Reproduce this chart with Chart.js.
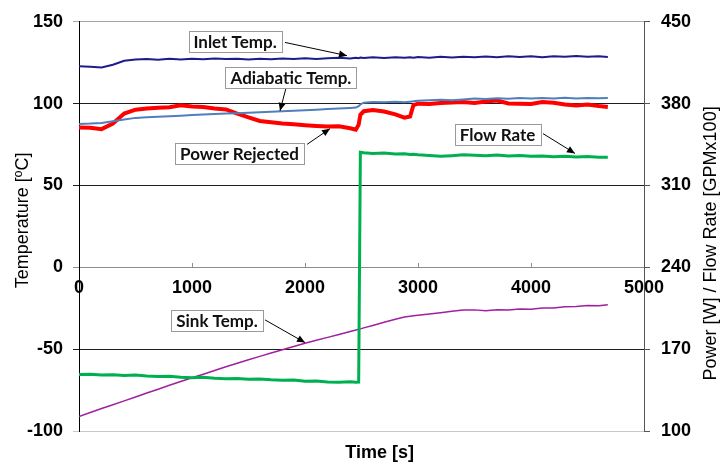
<!DOCTYPE html>
<html><head><meta charset="utf-8">
<script src="https://cdn.jsdelivr.net/npm/chart.js@4.4.1/dist/chart.umd.min.js"></script>
<style>html,body{margin:0;padding:0;background:#fff;} canvas{display:block;}</style>
</head><body>
<canvas id="c" width="722" height="464"></canvas>
<script>
// ---- data (time in seconds) ----
const timeS = [0,100,200,300,400,500,600,700,800,900,1000,1100,1200,1300,1400,1500,1600,1700,1800,1900,2000,2100,2200,2300,2400,2450,2475,2490,2520,2600,2700,2800,2880,2930,2960,3000,3100,3200,3300,3400,3500,3600,3700,3800,3900,4000,4100,4200,4300,4400,4500,4600,4680];
// left axis, degC
const inletTemp = [122.8,122.5,122.1,123.8,126.2,126.9,127.3,126.8,127.4,127.0,127.5,127.1,127.6,127.2,127.5,127.0,127.4,127.1,127.6,127.2,127.8,127.3,127.7,128.0,127.6,128.1,127.8,128.2,127.9,128.3,127.9,128.4,128.0,128.3,128.1,128.5,128.1,128.6,128.2,128.7,128.3,128.8,128.4,128.9,128.5,128.9,128.4,129.0,128.6,129.1,128.6,129.0,128.5];
const adiabaticTemp = [87.6,87.8,88.2,89.2,90.3,91.3,91.7,92.0,92.3,92.6,93.0,93.3,93.6,94.0,94.2,94.5,94.7,95.0,95.3,95.6,96.0,96.3,96.7,97.0,97.4,97.6,98.5,99.5,100.6,101.0,100.8,101.1,100.9,101.2,101.4,101.8,102.0,102.3,102.1,102.6,103.2,102.9,103.3,103.0,103.4,103.1,103.5,103.2,103.6,103.2,103.5,103.3,103.4];
const sinkTemp = [-91.1,-88.7,-86.3,-84.0,-81.6,-79.2,-76.8,-74.5,-72.1,-69.8,-67.5,-65.3,-63.0,-60.8,-58.6,-56.5,-54.4,-52.4,-50.4,-48.4,-46.4,-44.6,-42.8,-41.0,-39.2,-38.3,-37.8,-37.6,-37.0,-35.5,-33.6,-31.7,-30.4,-29.9,-29.6,-29.3,-28.5,-27.7,-26.8,-26.1,-26.0,-26.5,-25.9,-26.0,-25.4,-25.6,-24.9,-24.8,-24.1,-24.0,-23.4,-23.5,-22.8];
// right axis, W and GPMx100
const powerRejected = [359.7,359.3,358.2,363.0,371.5,374.8,375.8,376.4,376.9,378.6,377.6,377.2,375.9,375.0,371.5,368.3,365.2,364.0,363.0,362.3,361.6,360.9,360.4,360.6,359.0,357.8,362.0,370.5,373.5,374.5,373.2,370.8,368.0,369.0,378.8,380.0,379.6,380.5,380.9,381.4,380.6,381.8,382.6,380.2,380.0,379.7,381.3,380.8,379.2,378.4,379.3,378.0,377.2];
const flowRate = [148.3,148.6,147.9,148.2,147.5,147.8,147.0,146.6,146.9,146.0,145.6,145.9,145.1,144.6,144.9,144.2,144.5,143.8,143.4,143.7,142.5,142.8,142.0,141.8,142.1,141.7,141.9,338.5,338.0,337.4,337.8,336.9,337.2,336.5,336.8,336.2,335.6,334.9,335.5,336.3,335.9,335.4,336.0,335.2,335.6,334.9,335.3,334.6,335.1,334.3,334.8,334.1,334.2];

const seriesNames = ['Inlet Temp.','Adiabatic Temp.','Power Rejected','Flow Rate','Sink Temp.'];
const xTitle = 'Time [s]';
const yLeftTitle = 'Temperature [ºC]';
const yRightTitle = 'Power [W] / Flow Rate [GPMx100]';

// callouts: box centre, arrow start, arrow tip — in (time, degC) coordinates
const callouts = [
  {text: seriesNames[0], box:[1381,138.0], from:[1823,137.4], to:[2372,129.3]},
  {text: seriesNames[1], box:[1876,116.2], from:[1832,109.6], to:[1779,95.6]},
  {text: seriesNames[2], box:[1420,69.6],  from:[2018,75.1],  to:[2221,84.7]},
  {text: seriesNames[3], box:[3704,81.1],  from:[4106,81.7],  to:[4389,69.6]},
  {text: seriesNames[4], box:[1221,-32.7], from:[1646,-32.1], to:[2000,-46.0]}
];
const xTitleAt = 2660;

const pts = arr => timeS.map((t,i)=>({x:t, y:arr[i]}));

const TICK_FONT = {family:'"Liberation Sans", Arial, sans-serif', size:18, weight:'bold'};

const calloutPlugin = {
  id:'callouts',
  afterDatasetsDraw(chart){
    const ctx = chart.ctx, xs = chart.scales.x, ys = chart.scales.y, ca = chart.chartArea;
    ctx.save();
    callouts.forEach(c=>{
      const fx = xs.getPixelForValue(c.from[0]), fy = ys.getPixelForValue(c.from[1]);
      const tx = xs.getPixelForValue(c.to[0]), ty = ys.getPixelForValue(c.to[1]);
      ctx.strokeStyle = '#000'; ctx.lineWidth = 1;
      ctx.beginPath(); ctx.moveTo(fx,fy); ctx.lineTo(tx,ty); ctx.stroke();
      const ang = Math.atan2(ty-fy, tx-fx), L = 8, W = 3.5;
      ctx.fillStyle = '#000';
      ctx.beginPath();
      ctx.moveTo(tx,ty);
      ctx.lineTo(tx - L*Math.cos(ang) + W*Math.sin(ang), ty - L*Math.sin(ang) - W*Math.cos(ang));
      ctx.lineTo(tx - L*Math.cos(ang) - W*Math.sin(ang), ty - L*Math.sin(ang) + W*Math.cos(ang));
      ctx.closePath(); ctx.fill();
      ctx.font = 'bold 17px Lato, "Open Sans", sans-serif';
      const tw = ctx.measureText(c.text).width;
      const bx = xs.getPixelForValue(c.box[0]), by = ys.getPixelForValue(c.box[1]);
      const w = Math.round(tw + 10), h = 21;
      const left = Math.round(bx - w/2) + 0.5, top = Math.round(by - h/2) + 0.5;
      ctx.fillStyle = '#fff'; ctx.fillRect(left, top, w, h);
      ctx.strokeStyle = '#9a9a9a'; ctx.strokeRect(left, top, w, h);
      ctx.fillStyle = '#111'; ctx.textAlign = 'center'; ctx.textBaseline = 'middle';
      ctx.fillText(c.text, bx, by + 1);
    });
    // axis titles
    ctx.fillStyle = '#000'; ctx.textAlign = 'center'; ctx.textBaseline = 'middle';
    ctx.font = 'bold 18px "Liberation Sans", Arial, sans-serif';
    ctx.fillText(xTitle, xs.getPixelForValue(xTitleAt), 453);
    ctx.font = '18px "Liberation Sans", Arial, sans-serif';
    const midY = (ca.top + ca.bottom) / 2;
    ctx.save(); ctx.translate(23, midY - 6); ctx.rotate(-Math.PI/2);
    ctx.fillText(yLeftTitle, 0, 0); ctx.restore();
    ctx.save(); ctx.translate(711, midY + 17); ctx.rotate(-Math.PI/2);
    ctx.fillText(yRightTitle, 0, 0); ctx.restore();
    ctx.restore();
  }
};

const leftGridColor = ctx => {
  const v = ctx.tick ? ctx.tick.value : null;
  if (v === 150) return '#a6a6a6';
  if (v === -100) return '#c8c8c8';
  if (v === 0) return '#8c8c8c';
  return '#1e1e1e';
};

new Chart(document.getElementById('c'), {
  type:'line',
  data:{
    datasets:[
      {label:seriesNames[0], data:pts(inletTemp), yAxisID:'y', borderColor:'#1c1c8c', borderWidth:2},
      {label:seriesNames[1], data:pts(adiabaticTemp), yAxisID:'y', borderColor:'#4f7fbc', borderWidth:2},
      {label:seriesNames[2], data:pts(powerRejected), yAxisID:'y2', borderColor:'#ff0000', borderWidth:4},
      {label:seriesNames[3], data:pts(flowRate), yAxisID:'y2', borderColor:'#00b050', borderWidth:3},
      {label:seriesNames[4], data:pts(sinkTemp), yAxisID:'y', borderColor:'#a020a0', borderWidth:1.5}
    ]
  },
  options:{
    responsive:false, animation:false,
    layout:{padding:{top:18, left:0, right:0, bottom:33}},
    elements:{point:{radius:0}, line:{tension:0}},
    plugins:{legend:{display:false}, tooltip:{enabled:false}, title:{display:false}},
    scales:{
      x:{type:'linear', position:{y:0}, min:0, max:5000,
         ticks:{stepSize:1000, autoSkip:false, maxRotation:0, font:TICK_FONT, color:'#000', padding:15, callback:v=>String(v)},
         grid:{drawOnChartArea:false, drawTicks:true, tickLength:-5, color:'#8c8c8c'},
         border:{display:true, color:'#8c8c8c', width:1},
         afterFit:s=>{s.height = 0;}},
      y:{type:'linear', position:'left', min:-100, max:150,
         ticks:{stepSize:50, font:TICK_FONT, color:'#000', padding:10, callback:v=>String(v)},
         grid:{color:leftGridColor, tickLength:6, drawTicks:true},
         border:{display:true, color:'#000', width:1},
         title:{display:false},
         afterFit:s=>{s.width = 79;}},
      y2:{type:'linear', position:'right', min:100, max:450,
         ticks:{stepSize:70, font:TICK_FONT, color:'#000', padding:11, callback:v=>String(v)},
         grid:{drawOnChartArea:false, tickLength:6, color:'#555'},
         border:{display:true, color:'#555', width:1},
         title:{display:false},
         afterFit:s=>{s.width = 78;}}
    }
  },
  plugins:[calloutPlugin]
});
</script>
</body></html>
